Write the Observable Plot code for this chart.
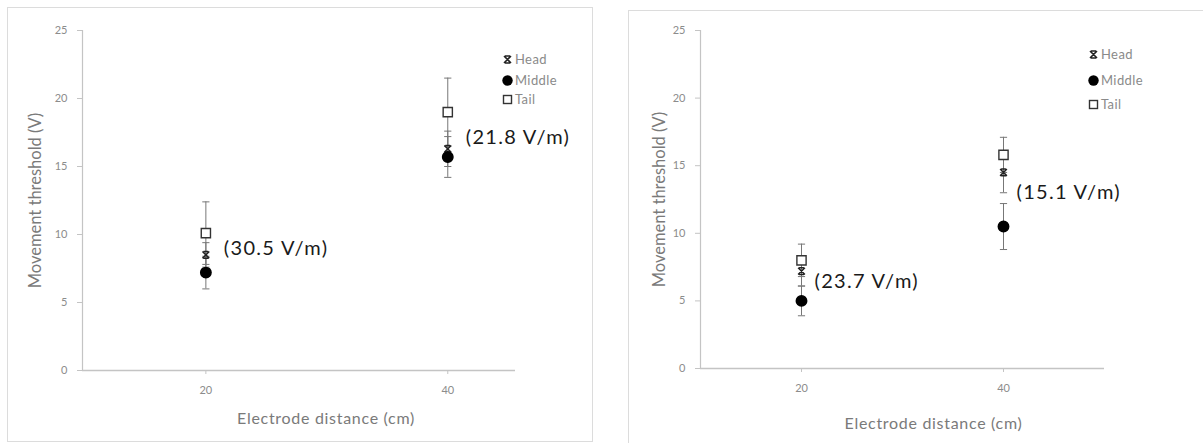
<!DOCTYPE html>
<html>
<head>
<meta charset="utf-8">
<script src="https://cdn.jsdelivr.net/npm/d3@7"></script>
<script src="https://cdn.jsdelivr.net/npm/@observablehq/plot@0.6"></script>
<style>
  body { margin: 0; background: #fff; }
  #wrap { position: relative; width: 1203px; height: 443px; overflow: hidden; background: #fff; font-family: Lato, "Open Sans", sans-serif; }
  .box { position: absolute; border: 1px solid #dcdcdc; box-sizing: border-box; }
  .panel { position: absolute; top: 0; }
  .legend { position: absolute; font-size: 13px; color: #8a8a8a; letter-spacing: 0.4px; }
  .legend .row { position: absolute; display: flex; align-items: center; white-space: nowrap; }
  .legend svg { margin-right: 2px; }
</style>
</head>
<body>
<div id="wrap">
  <div class="box" style="left:7px;top:7px;width:586px;height:435px;"></div>
  <div class="box" style="left:628px;top:10px;width:590px;height:450px;"></div>
</div>
<script>
// ---- Data ----
const distances = [20, 40];
const seriesNames = ["Head", "Middle", "Tail"];

// Left panel
const headA = [8.5, 16.3];
const headAErr = [0.9, 1.3];
const middleA = [7.2, 15.7];
const middleAErr = [1.2, 1.5];
const tailA = [10.1, 19.0];
const tailAErr = [2.3, 2.5];
const fieldLabelsA = ["(30.5 V/m)", "(21.8 V/m)"];
const fieldLabelYA = [9.0, 17.1];

// Right panel
const headB = [7.2, 14.5];
const headBErr = [1.1, 1.5];
const middleB = [5.0, 10.5];
const middleBErr = [1.1, 1.7];
const tailB = [8.0, 15.8];
const tailBErr = [1.2, 1.3];
const fieldLabelsB = ["(23.7 V/m)", "(15.1 V/m)"];
const fieldLabelYB = [6.4, 13.0];

const yTicks = [0, 5, 10, 15, 20, 25];
const xTicks = [20, 40];

// ---- Symbols ----
const hourglass = {
  draw(ctx, size) {
    const r = Math.sqrt(size / Math.PI);
    const b = r * 0.7;
    ctx.moveTo(-r, -r); ctx.lineTo(r, r);
    ctx.moveTo(r, -r); ctx.lineTo(-r, r);
    ctx.moveTo(-b, -r); ctx.lineTo(b, -r);
    ctx.moveTo(-b, r); ctx.lineTo(b, r);
  }
};
const cap = {
  draw(ctx, size) {
    const r = Math.sqrt(size / Math.PI);
    ctx.moveTo(-r, 0); ctx.lineTo(r, 0);
  }
};

function rows(values, errs, name) {
  return distances.map((d, i) => ({distance: d, value: values[i], err: errs[i], series: name}));
}

function makePanel(cfg) {
  const data = [
    ...rows(cfg.tail, cfg.tailErr, "Tail"),
    ...rows(cfg.head, cfg.headErr, "Head"),
    ...rows(cfg.middle, cfg.middleErr, "Middle")
  ];
  const caps = data.flatMap(d => [
    {distance: d.distance, v: d.value - d.err},
    {distance: d.distance, v: d.value + d.err}
  ]);
  const labels = distances.map((d, i) => ({distance: d, y: cfg.labelY[i], text: cfg.labels[i]}));
  const axisColor = "#c4c4c4";
  const tickColor = "#8c8c8c";
  return Plot.plot({
    width: cfg.width,
    height: 443,
    marginLeft: cfg.marginLeft,
    marginRight: cfg.marginRight,
    marginTop: 30,
    marginBottom: cfg.marginBottom,
    style: {background: "transparent", fontFamily: "Lato, 'Open Sans', sans-serif"},
    x: {domain: cfg.xDomain},
    y: {domain: [0, 25]},
    marks: [
      Plot.ruleX([cfg.xDomain[0]], {stroke: axisColor, strokeWidth: 1.2}),
      Plot.ruleY([0], {stroke: axisColor, strokeWidth: 1.5}),
      Plot.axisY({ticks: yTicks, tickSize: 5, tickPadding: 10, fontSize: 11, color: tickColor, stroke: axisColor,
        label: "Movement threshold (V)", labelAnchor: "center", labelArrow: false, labelOffset: cfg.yLabelOffset}),
      Plot.axisX({ticks: xTicks, tickSize: 4, tickPadding: 12, fontSize: 11, color: tickColor, stroke: axisColor,
        label: "Electrode distance (cm)", labelAnchor: "center", labelArrow: false, labelOffset: cfg.xLabelOffset}),
      Plot.ruleX(data, {x: "distance", y1: d => d.value - d.err, y2: d => d.value + d.err, stroke: "#777", strokeWidth: 1}),
      Plot.dot(caps, {x: "distance", y: "v", symbol: cap, r: 3.6, stroke: "#777", strokeWidth: 1, fill: "none"}),
      Plot.dot(data.filter(d => d.series === "Tail"), {x: "distance", y: "value", symbol: "square", r: 5.2, fill: "white", stroke: "#333", strokeWidth: 1.4}),
      Plot.dot(data.filter(d => d.series === "Head"), {x: "distance", y: "value", symbol: hourglass, r: 3.4, fill: "none", stroke: "#222", strokeWidth: 1.5}),
      Plot.dot(data.filter(d => d.series === "Middle"), {x: "distance", y: "value", symbol: "circle", r: 5.2, fill: "#000", stroke: "#000"}),
      Plot.text(labels, {x: "distance", y: "y", text: "text", dx: cfg.labelDx, textAnchor: "start", fontSize: 20, fill: "#1a1a1a"})
    ]
  });
}

function styleAxisTitles(svg, xShift) {
  const setAll = (sel, size, spacing) => {
    svg.querySelectorAll(sel).forEach(g => {
      g.setAttribute("font-size", size);
      g.setAttribute("fill", "#7a7a7a");
      if (spacing) g.setAttribute("letter-spacing", spacing);
      g.querySelectorAll("text").forEach(t => {
        t.setAttribute("font-size", size);
        t.setAttribute("fill", "#7a7a7a");
        if (spacing) t.setAttribute("letter-spacing", spacing);
      });
    });
  };
  setAll("[aria-label='y-axis label']", "16.5", null);
  setAll("[aria-label='x-axis label']", "16", "0.7");
  svg.querySelectorAll("[aria-label='x-axis label']").forEach(g => {
    const t = g.getAttribute("transform") || "";
    g.setAttribute("transform", `translate(${xShift},0) ` + t);
  });
  svg.querySelectorAll("[aria-label='text'] text").forEach(t => t.setAttribute("letter-spacing", "1.3"));
}

const wrap = document.getElementById("wrap");

const left = makePanel({
  width: 600, marginLeft: 82, marginRight: 85, marginBottom: 73,
  xDomain: [9.8, 45.6],
  head: headA, headErr: headAErr, middle: middleA, middleErr: middleAErr, tail: tailA, tailErr: tailAErr,
  labels: fieldLabelsA, labelY: fieldLabelYA, labelDx: 18,
  yLabelOffset: 53, xLabelOffset: 53
});
left.classList.add("panel");
left.style.left = "0px";
styleAxisTitles(left, 27);
wrap.appendChild(left);

const right = makePanel({
  width: 603, marginLeft: 100, marginRight: 99, marginBottom: 75,
  xDomain: [10, 50],
  head: headB, headErr: headBErr, middle: middleB, middleErr: middleBErr, tail: tailB, tailErr: tailBErr,
  labels: fieldLabelsB, labelY: fieldLabelYB, labelDx: 13,
  yLabelOffset: 47, xLabelOffset: 60
});
right.classList.add("panel");
right.style.left = "600px";
styleAxisTitles(right, 31);
wrap.appendChild(right);

// ---- Legends ----
function markerSvg(name) {
  if (name === "Head") return '<svg width="11" height="11"><path d="M2,2L9,9M9,2L2,9M3,2L8,2M3,9L8,9" stroke="#222" stroke-width="1.6" fill="none"/></svg>';
  if (name === "Middle") return '<svg width="11" height="11"><circle cx="5.5" cy="5.5" r="5.2" fill="#000"/></svg>';
  return '<svg width="11" height="11"><rect x="1.5" y="1.5" width="8" height="8" fill="white" stroke="#333" stroke-width="1.4"/></svg>';
}
function legend(x, ys) {
  const div = document.createElement("div");
  div.className = "legend";
  div.style.left = x + "px";
  div.style.top = "0px";
  seriesNames.forEach((name, i) => {
    const r = document.createElement("div");
    r.className = "row";
    r.style.top = (ys[i] - 8) + "px";
    r.innerHTML = markerSvg(name) + "<span>" + name + "</span>";
    div.appendChild(r);
  });
  wrap.appendChild(div);
}
legend(502, [59, 80, 99]);
legend(1088, [54, 80, 104]);
</script>
</body>
</html>
